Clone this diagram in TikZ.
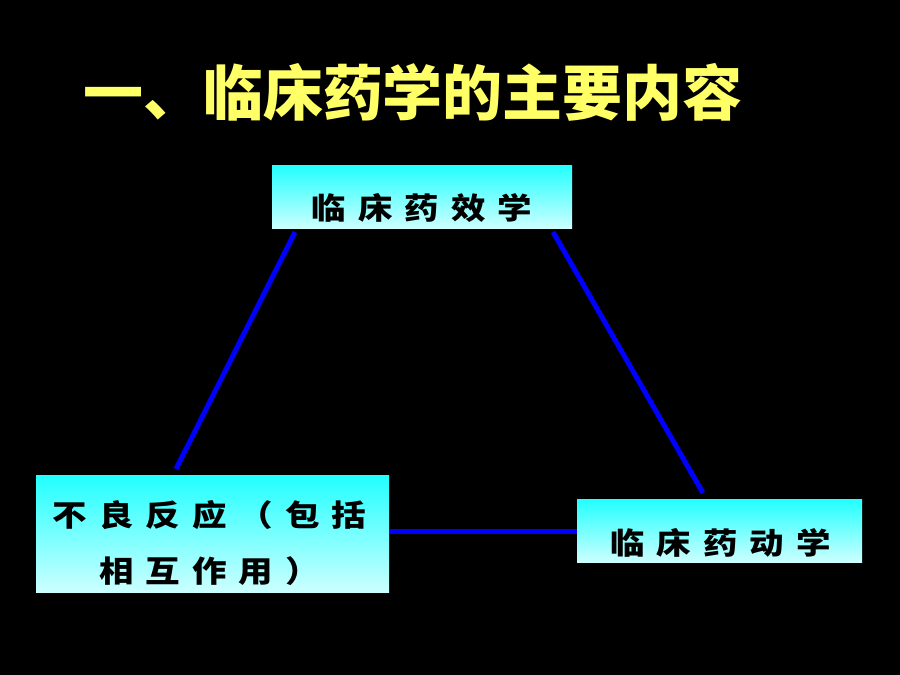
\documentclass[tikz,border=0pt]{standalone}
\usepackage{fontspec}
\usetikzlibrary{calc}
\newfontfamily\cjk{Noto Sans CJK SC}
\newfontfamily\cjkls{Noto Sans CJK SC}[LetterSpace=40,FakeStretch=1.15]
\definecolor{titleyellow}{RGB}{255,255,102}
\definecolor{boxtop}{RGB}{34,255,255}
\definecolor{boxbot}{RGB}{204,255,255}
\definecolor{linkblue}{RGB}{0,0,255}
\tikzset{
  box/.style={rectangle, inner sep=0pt, top color=boxtop, bottom color=boxbot, draw=none},
  boxtext/.style={inner sep=0pt, align=center, text=black, font=\cjkls\bfseries\fontsize{30}{56}\selectfont},
  titletext/.style={inner sep=0pt, text=titleyellow, font=\cjk\bfseries\fontsize{60}{66}\selectfont},
  link/.style={draw=linkblue, line width=5pt}
}
\begin{document}
\begin{tikzpicture}[x=1pt,y=-1pt]
\fill[black] (0,0) rectangle (900,675);
\useasboundingbox (0,0) rectangle (900,675);
\node[titletext] (title) at (413,92) {一、临床药学的主要内容};
\node[box, minimum width=300pt, minimum height=63pt] (xiao) at (422,196.5) {};
\node[box, minimum width=353pt, minimum height=117pt] (buliang) at (212.5,533.5) {};
\node[box, minimum width=285pt, minimum height=63pt] (dong) at (719.5,530.5) {};
\node[boxtext] (xiaotxt) at ($(xiao.center)+(0,11)$) {临床药效学};
\node[boxtext] (buliangtxt) at ($(buliang.center)+(-3,10)$) {不良反应（包括\\相互作用）};
\node[boxtext] (dongtxt) at ($(dong.center)+(1,12)$) {临床药动学};
\coordinate (a1) at (295,232);
\coordinate (a2) at (176,469);
\coordinate (b1) at (553,232);
\coordinate (b2) at (703,493);
\draw[link] (a1) -- (a2);
\draw[link] (b1) -- (b2);
\draw[link] (buliang.east |- 0,531) -- (dong.west |- 0,531);
\end{tikzpicture}
\end{document}
